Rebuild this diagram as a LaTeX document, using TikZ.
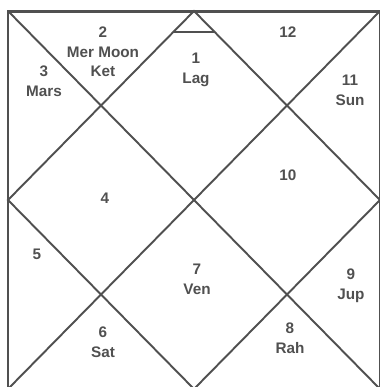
\documentclass[tikz,border=0pt]{standalone}
\usepackage{fontspec}
\setmainfont{Liberation Sans}
\usepackage{tikz}
\usetikzlibrary{positioning, calc}
\definecolor{mygray}{RGB}{80,80,80}
\definecolor{mytext}{RGB}{80,80,80}
\tikzset{
  house/.style={font=\bfseries\fontsize{8.7}{11.2}\selectfont, text=mytext,
    align=center, inner sep=0pt},
  chartline/.style={draw=mygray, line width=1.1pt},
  frame/.style={draw=mygray, line width=1.7pt}
}

\begin{document}
\begin{tikzpicture}[x=0.02cm, y=-0.02cm]
  \useasboundingbox (0,0) rectangle (380,387);
  \clip (0,0) rectangle (380,387);
  % Outer square and its mid points
  \coordinate (tl) at (8,11);
  \coordinate (tr) at (380,11);
  \coordinate (bl) at (8,389);
  \coordinate (br) at (380,389);
  \coordinate (tm) at ($(tl)!0.5!(tr)$);
  \coordinate (bm) at ($(bl)!0.5!(br)$);
  \coordinate (lm) at ($(tl)!0.5!(bl)$);
  \coordinate (rm) at ($(tr)!0.5!(br)$);
  \draw[frame] (tl) rectangle (br);
  % Diagonals and inner diamond
  \draw[chartline] (tl) -- (br);
  \draw[chartline] (tr) -- (bl);
  \draw[chartline] (tm) -- (rm) -- (bm) -- (lm) -- cycle;
  % Lagna mark
  \draw[chartline] ($(tm)!0.11!(lm)$) -- ($(tm)!0.11!(rm)$);
  % Houses
  \node[house] (h1) at (196,70) {1\\Lag};
  \node[house] (h2) at (103,52) {2\\Mer Moon\\Ket};
  \node[house] (h3) at (44,81) {3\\Mars};
  \node[house] (h4) at (105,198) {4};
  \node[house] (h5) at (37,254) {5};
  \node[house] (h6) at (103,342) {6\\Sat};
  \node[house] (h7) at (197,279) {7\\Ven};
  \node[house] (h8) at (290,338) {8\\Rah};
  \node[house] (h9) at (351,286) {9\\Jup};
  \node[house] (h10) at (288,175) {10};
  \node[house] (h11) at (350,90) {11\\Sun};
  \node[house] (h12) at (288,32) {12};
\end{tikzpicture}
\end{document}
